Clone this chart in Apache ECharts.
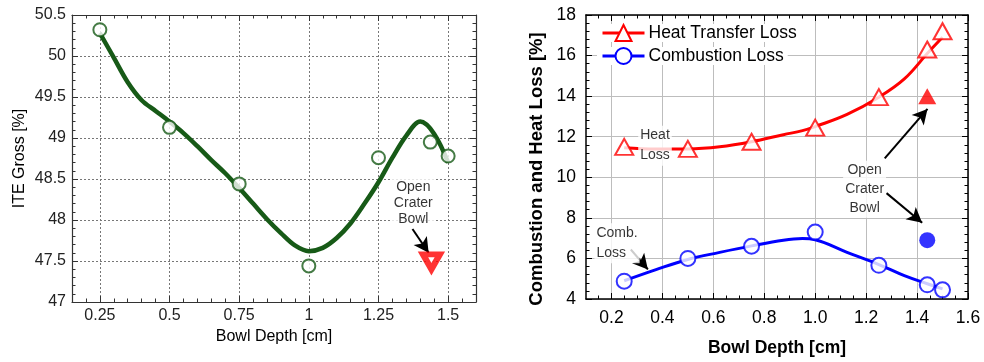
<!DOCTYPE html>
<html>
<head>
<meta charset="utf-8">
<script src="https://cdn.jsdelivr.net/npm/echarts@6/dist/echarts.min.js"></script>
<style>
  html, body { margin: 0; padding: 0; background: #fff; }
  #chart { width: 984px; height: 362px; }
</style>
</head>
<body>
<div id="chart"></div>
<script>
// ---- Left panel: gross indicated thermal efficiency vs bowl depth ----
const iteDepth = [0.25, 0.5, 0.75, 1.0, 1.25, 1.436, 1.5];
const iteValue = [50.32, 49.13, 48.44, 47.44, 48.76, 48.95, 48.78];
// fitted trend line
const iteFitDepth = [0.25, 0.3, 0.35, 0.4, 0.45, 0.5, 0.55, 0.6, 0.65, 0.7, 0.75, 0.8, 0.85, 0.9, 0.95, 1.0, 1.05, 1.1, 1.15, 1.2, 1.25, 1.3, 1.35, 1.4, 1.45, 1.5];
const iteFitValue = [50.28, 49.98, 49.68, 49.46, 49.33, 49.2, 49.06, 48.9, 48.73, 48.57, 48.39, 48.2, 48.01, 47.84, 47.69, 47.62, 47.66, 47.78, 47.96, 48.2, 48.46, 48.76, 49.03, 49.2, 49.05, 48.7];
// open crater bowl point
const iteOpenCrater = [[1.44, 47.49]];

const leftXTicks = [0.25, 0.5, 0.75, 1.0, 1.25, 1.5];
const leftXMinorTicks = [0.2, 0.3, 0.35, 0.4, 0.45, 0.55, 0.6, 0.65, 0.7, 0.8, 0.85, 0.9, 0.95, 1.05, 1.1, 1.15, 1.2, 1.3, 1.35, 1.4, 1.45, 1.55];

// ---- Right panel: combustion and heat transfer losses vs bowl depth ----
const lossDepth = [0.25, 0.5, 0.75, 1.0, 1.25, 1.44, 1.5];
const heatLoss = [11.5, 11.4, 11.75, 12.45, 13.95, 16.3, 17.2];
const combLoss = [4.88, 6.0, 6.6, 7.3, 5.66, 4.7, 4.45];
const lossFitDepth = [0.25, 0.375, 0.5, 0.625, 0.75, 0.875, 0.95, 1.0, 1.125, 1.25, 1.35, 1.44, 1.5];
const heatFit = [11.46, 11.4, 11.4, 11.5, 11.75, 12.1, 12.3, 12.5, 13.1, 13.95, 14.85, 16.1, 16.9];
const combFit = [4.9, 5.45, 5.95, 6.3, 6.62, 6.9, 6.98, 6.92, 6.3, 5.7, 5.15, 4.75, 4.5];
const heatOpenCrater = [[1.44, 14.0]];
const combOpenCrater = [[1.44, 6.9]];

const rightXTicks = [0.2, 0.4, 0.6, 0.8, 1.0, 1.2, 1.4, 1.6];
const rightXMinorTicks = [0.15, 0.25, 0.3, 0.35, 0.45, 0.5, 0.55, 0.65, 0.7, 0.75, 0.85, 0.9, 0.95, 1.05, 1.1, 1.15, 1.25, 1.3, 1.35, 1.45, 1.5, 1.55];

const FONT = "'Liberation Sans', Arial, sans-serif";
const GREEN = '#175a17';
const RED = '#ff0000';
const BLUE = '#0000ff';

const pairs = (xs, ys) => xs.map((x, i) => [x, ys[i]]);

// frame + tick helpers
function xAxisPair(grid, min, max, major, minor, pos, opts) {
  const base = { type: 'value', gridIndex: grid, min: min, max: max, position: pos };
  return [
    Object.assign({}, base, {
      axisLine: { show: true, onZero: false, lineStyle: { color: opts.frame, width: opts.frameWidth } },
      axisTick: { show: true, inside: true, length: 6, customValues: major, lineStyle: { color: opts.frame } },
      axisLabel: pos === 'bottom'
        ? { show: true, customValues: major, margin: opts.labelMargin, fontSize: opts.fontSize, fontFamily: FONT, color: opts.labelColor, formatter: opts.fmt }
        : { show: false },
      splitLine: pos === 'bottom' ? { show: true, lineStyle: opts.split } : { show: false },
      name: pos === 'bottom' ? opts.name : '',
      nameLocation: 'middle', nameGap: opts.nameGap,
      nameTextStyle: { fontSize: opts.nameSize, fontFamily: FONT, color: '#000', fontWeight: opts.nameWeight }
    }),
    Object.assign({}, base, {
      axisLine: { show: false, onZero: false },
      axisTick: { show: true, inside: true, length: 3.5, customValues: minor, lineStyle: { color: opts.frame } },
      axisLabel: { show: false },
      splitLine: { show: false }
    })
  ];
}

function yAxisFor(grid, min, max, interval, pos, opts) {
  return {
    type: 'value', gridIndex: grid, min: min, max: max, interval: interval, position: pos,
    axisLine: { show: true, onZero: false, lineStyle: { color: opts.frame, width: opts.frameWidth } },
    axisTick: { show: true, inside: true, length: 6, lineStyle: { color: opts.frame } },
    minorTick: { show: true, splitNumber: 5, length: 3.5, lineStyle: { color: opts.frame } },
    axisLabel: pos === 'left'
      ? { show: true, margin: opts.labelMargin, fontSize: opts.fontSize, fontFamily: FONT, color: opts.labelColor }
      : { show: false },
    splitLine: pos === 'left' ? { show: true, lineStyle: opts.split } : { show: false },
    name: pos === 'left' ? opts.name : '',
    nameLocation: 'middle', nameGap: opts.nameGap,
    nameTextStyle: { fontSize: opts.nameSize, fontFamily: FONT, color: '#000', fontWeight: opts.nameWeight, padding: opts.namePad || 0 }
  };
}

const leftStyle = {
  frame: '#333', frameWidth: 1.2, labelColor: '#222', fontSize: 16, labelMargin: 6,
  split: { color: '#777', width: 1, type: [2, 2] }, nameSize: 16, nameWeight: 'normal'
};
const rightStyle = {
  frame: '#000', frameWidth: 1.5, labelColor: '#000', fontSize: 17.5, labelMargin: 10,
  split: { color: '#bdbdbd', width: 1, type: 'solid' }, nameSize: 17.5, nameWeight: 'bold'
};

const xAxes = [].concat(
  xAxisPair(0, 0.15, 1.6, leftXTicks, leftXMinorTicks, 'bottom', Object.assign({}, leftStyle, { name: 'Bowl Depth [cm]', nameGap: 24 })),
  xAxisPair(0, 0.15, 1.6, leftXTicks, leftXMinorTicks, 'top', Object.assign({}, leftStyle, {})),
  xAxisPair(1, 0.1, 1.6, rightXTicks, rightXMinorTicks, 'bottom', Object.assign({}, rightStyle, { name: 'Bowl Depth [cm]', nameGap: 40, fmt: v => v.toFixed(1) })),
  xAxisPair(1, 0.1, 1.6, rightXTicks, rightXMinorTicks, 'top', Object.assign({}, rightStyle, {}))
);
// x axis indices: 0,1 left bottom; 2,3 left top; 4,5 right bottom; 6,7 right top

const yAxes = [
  yAxisFor(0, 47, 50.5, 0.5, 'left', Object.assign({}, leftStyle, { name: 'ITE Gross [%]', nameGap: 44 })),
  yAxisFor(0, 47, 50.5, 0.5, 'right', leftStyle),
  yAxisFor(1, 4, 18, 2, 'left', Object.assign({}, rightStyle, {
    name: 'Combustion and Heat Loss [%]', nameGap: 40, nameSize: 18.5, namePad: [0, 24, 0, 0]
  })),
  yAxisFor(1, 4, 18, 2, 'right', rightStyle)
];

// text callout drawn at a data position
function callout(xi, yi, at, text, lineHeight, align, arrows) {
  return {
    type: 'scatter', xAxisIndex: xi, yAxisIndex: yi, z: 20,
    symbol: 'circle', symbolSize: 0.1, itemStyle: { color: 'rgba(0,0,0,0)' },
    silent: true, animation: false,
    label: {
      show: true, position: 'inside', formatter: text, align: align,
      fontFamily: FONT, fontSize: 14, color: '#000', lineHeight: lineHeight,
      backgroundColor: '#fff', padding: [0, 2]
    },
    data: [at],
    markLine: arrows ? {
      silent: true, animation: false, symbol: ['none', 'arrow'], symbolSize: [12, 15],
      lineStyle: { color: '#000', width: 2, type: 'solid' },
      label: { show: false },
      data: arrows.map(a => [{ coord: a[0] }, { coord: a[1] }])
    } : undefined
  };
}

const legendBase = {
  left: 597, orient: 'vertical', itemWidth: 42, itemHeight: 20,
  padding: [0, 4, 0, 4], backgroundColor: '#fff',
  lineStyle: { width: 3 },
  textStyle: { fontFamily: FONT, fontSize: 17.5, color: '#000', padding: [0, 0, 0, -1] }
};

const option = {
  animation: false,
  backgroundColor: '#fff',
  grid: [
    { left: 72, top: 15, width: 404, height: 287 },
    { left: 586, top: 15, width: 382, height: 287 }
  ],
  xAxis: xAxes,
  yAxis: yAxes,
  legend: [
    Object.assign({}, legendBase, { data: ['Heat Transfer Loss'], top: 24 }),
    Object.assign({}, legendBase, { data: ['Combustion Loss'], top: 47 })
  ],
  series: [
    // left panel
    {
      name: 'ITE fit', type: 'line', xAxisIndex: 0, yAxisIndex: 0, smooth: 0.35, showSymbol: false,
      lineStyle: { color: GREEN, width: 4.5 }, data: pairs(iteFitDepth, iteFitValue), z: 5
    },
    {
      name: 'ITE Gross', type: 'scatter', xAxisIndex: 0, yAxisIndex: 0, symbol: 'emptyCircle', symbolSize: 13,
      itemStyle: { color: GREEN, borderColor: GREEN, borderWidth: 2 }, data: pairs(iteDepth, iteValue), z: 6
    },
    {
      name: 'ITE Open Crater', type: 'scatter', xAxisIndex: 0, yAxisIndex: 0, symbol: 'triangle', symbolRotate: 180,
      symbolSize: [17, 15],
      itemStyle: { color: '#fff', borderColor: RED, borderWidth: 6 }, data: iteOpenCrater, z: 6
    },
    callout(0, 0, [1.375, 48.21], 'Open\nCrater\nBowl', 16, 'center', [[[1.372, 47.89], [1.43, 47.6]]]),

    // right panel
    {
      name: 'Heat Transfer Loss', type: 'line', xAxisIndex: 4, yAxisIndex: 2, smooth: 0.4, showSymbol: false,
      symbol: 'emptyTriangle', color: RED, lineStyle: { color: RED, width: 3 },
      itemStyle: { color: RED }, data: pairs(lossFitDepth, heatFit), z: 5
    },
    {
      name: 'Combustion Loss', type: 'line', xAxisIndex: 4, yAxisIndex: 2, smooth: 0.4, showSymbol: false,
      symbol: 'emptyCircle', color: BLUE, lineStyle: { color: BLUE, width: 3 },
      itemStyle: { color: BLUE }, data: pairs(lossFitDepth, combFit), z: 5
    },
    {
      name: 'Heat points', type: 'scatter', xAxisIndex: 4, yAxisIndex: 2, symbol: 'emptyTriangle', symbolSize: [18, 16],
      itemStyle: { color: RED, borderColor: RED, borderWidth: 1.5 }, data: pairs(lossDepth, heatLoss), z: 6
    },
    {
      name: 'Comb points', type: 'scatter', xAxisIndex: 4, yAxisIndex: 2, symbol: 'emptyCircle', symbolSize: 15,
      itemStyle: { color: BLUE, borderColor: BLUE, borderWidth: 1.5 }, data: pairs(lossDepth, combLoss), z: 6
    },
    {
      name: 'Heat Open Crater', type: 'scatter', xAxisIndex: 4, yAxisIndex: 2, symbol: 'triangle', symbolSize: [18, 16],
      itemStyle: { color: RED }, data: heatOpenCrater, z: 6
    },
    {
      name: 'Comb Open Crater', type: 'scatter', xAxisIndex: 4, yAxisIndex: 2, symbol: 'circle', symbolSize: 16,
      itemStyle: { color: BLUE }, data: combOpenCrater, z: 6
    },
    callout(4, 2, [0.305, 11.56], 'Heat\nLoss', 20, 'left'),
    callout(4, 2, [0.133, 6.75], 'Comb.\nLoss', 20, 'left', [[[0.276, 6.44], [0.343, 5.46]]]),
    callout(4, 2, [1.194, 9.41], 'Open\nCrater\nBowl', 19, 'center',
      [[[1.273, 10.93], [1.441, 13.37]], [[1.28, 9.22], [1.42, 7.76]]])
  ]
};

const chart = echarts.init(document.getElementById('chart'), null, { renderer: 'canvas' });
chart.setOption(option);
</script>
</body>
</html>
